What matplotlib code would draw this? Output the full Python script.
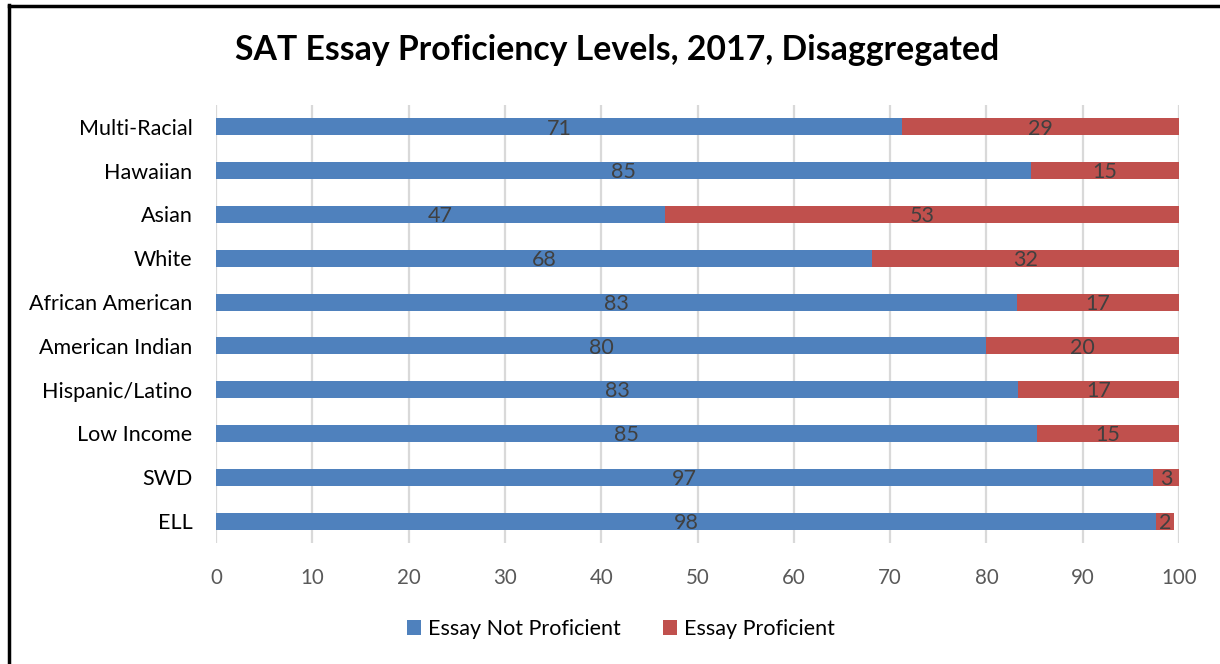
import matplotlib
matplotlib.use("Agg")
import matplotlib.pyplot as plt
from matplotlib.lines import Line2D
from matplotlib.patches import Patch

categories = ["ELL", "SWD", "Low Income", "Hispanic/Latino", "American Indian",
              "African American", "White", "Asian", "Hawaiian", "Multi-Racial"]
not_proficient = [97.6, 97.3, 85.3, 83.3, 80.0, 83.2, 68.1, 46.6, 84.6, 71.2]
proficient = [1.9, 2.7, 14.7, 16.7, 20.0, 16.8, 31.9, 53.4, 15.4, 28.8]
series_names = ["Essay Not Proficient", "Essay Proficient"]
xticks = [0, 10, 20, 30, 40, 50, 60, 70, 80, 90, 100]
title = "SAT Essay Proficiency Levels, 2017, Disaggregated"

blue = "#4F81BD"
red = "#C0504D"
font = ["Lato", "DejaVu Sans"]
plt.rcParams['font.family'] = font

fig = plt.figure(figsize=(12.2, 6.64), dpi=100)
ax = fig.add_axes([216/1220, 1-543/664, (1179-216)/1220, (543-105)/664])

y = list(range(len(categories)))
b1 = ax.barh(y, not_proficient, height=0.39, color=blue, zorder=3)
b2 = ax.barh(y, proficient, left=not_proficient, height=0.39, color=red, zorder=3)

for i in y:
    ax.text(not_proficient[i]/2, i - 0.04, f"{int(not_proficient[i] + 0.5)}", ha="center",
            va="center", fontsize=15.5, color="#404040", zorder=4)
    ax.text(not_proficient[i] + proficient[i]/2, i - 0.04, f"{int(proficient[i] + 0.5)}",
            ha="center", va="center", fontsize=15.5, color="#404040", zorder=4)

ax.set_xlim(0, 100)
ax.set_ylim(-0.5, len(categories)-0.5)
ax.set_xticks(xticks)
ax.set_yticks(y)
ax.set_yticklabels(categories, fontsize=15.5, color="#000000")
ax.tick_params(axis="x", labelsize=14.8, labelcolor="#595959", length=0, pad=18)
ax.tick_params(axis="y", length=0, pad=17)
ax.grid(axis="x", color="#D9D9D9", linewidth=1.6, zorder=0)
for s in ax.spines.values():
    s.set_visible(False)

fig.text(617/1220, 1-50/664, title, ha="center", va="center", fontsize=24.3,
         fontweight="bold", color="#000000")

handles = [Patch(facecolor=blue), Patch(facecolor=red)]
fig.legend(handles, series_names, loc="center", bbox_to_anchor=(621/1220, 1-629/664),
           ncol=2, frameon=False, fontsize=15.5, handlelength=0.65, handleheight=0.65,
           handletextpad=0.3, columnspacing=2.0)

# border lines (left and top)
fig.add_artist(Line2D([8.5/1220, 8.5/1220], [0, 1-5/664], color="black", linewidth=2.5,
                      transform=fig.transFigure))
fig.add_artist(Line2D([8.5/1220, 1], [1-6/664, 1-6/664], color="black", linewidth=2.5,
                      transform=fig.transFigure))

fig.savefig("out.png", dpi=100)
